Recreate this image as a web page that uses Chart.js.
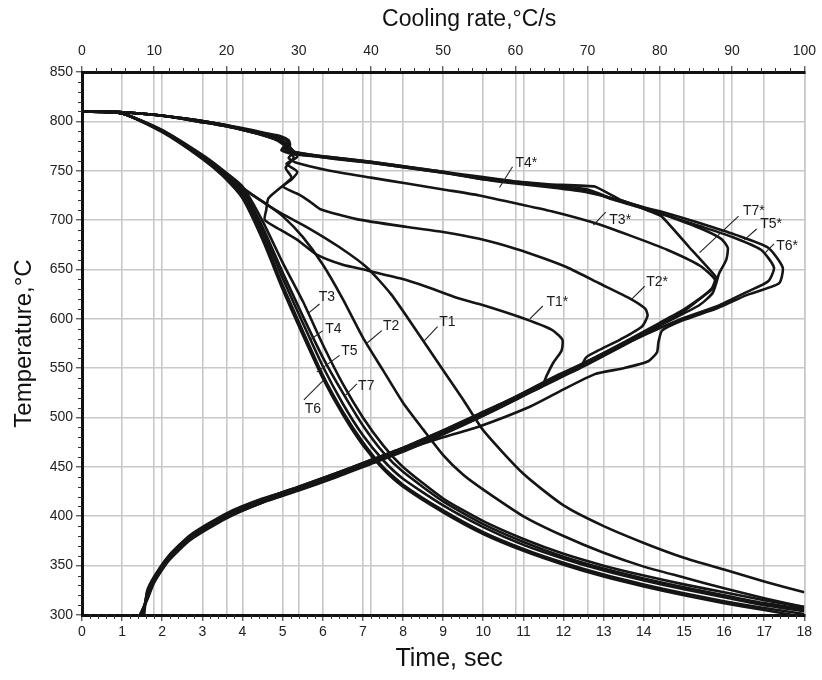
<!DOCTYPE html>
<html>
<head>
<meta charset="utf-8">
<script src="https://cdn.jsdelivr.net/npm/chart.js@4.4.1/dist/chart.umd.min.js"></script>
<style>
  html, body { margin: 0; padding: 0; background: #fff; }
  #wrap { width: 822px; height: 680px; }
</style>
</head>
<body>
<div id="wrap"><canvas id="chart" width="822" height="680"></canvas></div>
<script>
// Cooling curves: temperature (°C) against time (s), bottom axis
const stepTime = [0, 1, 2, 3, 3.5, 4, 4.5, 5, 5.5, 6, 6.5, 7, 7.5, 8, 9, 10, 11, 12, 13, 14, 15, 16, 17, 18];
const tempT3 = [810, 808, 791, 766, 751, 734, 699, 657, 618, 574, 534, 500, 472, 450, 418, 395, 377, 362, 350, 340, 331, 323, 315, 308];
const tempT4 = [810, 808, 790, 764, 748, 728, 689, 641, 596, 552, 514, 482, 457, 438, 411, 389, 371, 357, 345, 335, 326, 318, 310, 304];
const tempT5 = [810, 808, 790, 763, 747, 725, 684, 634, 588, 543, 506, 475, 450, 432, 406, 384, 367, 353, 341, 331, 322, 314, 307, 301];
const tempT6 = [810, 808, 789, 762, 745, 722, 680, 630, 584, 540, 503, 472, 448, 430, 404, 382, 365, 351, 339, 329, 320, 312, 305, 298];
const tempT7 = [810, 808, 791, 765, 750, 731, 693, 647, 603, 561, 525, 492, 465, 445, 415, 392, 374, 359, 347, 337, 328, 320, 312, 306];

const coolT1 = [[0, 810], [1, 808], [2, 790], [3, 765], [3.5, 750], [4, 733], [4.6, 716], [5, 706], [5.6, 693], [6.4, 673],
  [7.1, 652], [7.7, 625], [8.3, 590], [9, 548], [9.5, 518], [10, 487], [11, 443], [12, 411], [13, 390], [14, 373],
  [15, 358], [16, 346], [17, 334], [18, 323]];
const coolT2 = [[0, 810], [1, 808], [2, 790], [3, 765], [3.5, 750], [4, 732], [4.6, 716], [5, 704], [5.5, 683], [6, 655],
  [6.5, 620], [7, 581], [7.5, 548], [8, 515], [8.5, 488], [9, 462], [9.5, 442], [10, 427], [11, 400], [12, 380],
  [13, 363], [14, 349], [15, 338], [16, 327], [17, 317], [18, 308]];

// Cooling-rate curves: temperature (°C) against cooling rate (°C/s), top axis
const rateT1 = [[0, 810], [4, 810], [8, 808], [12, 805], [16, 800], [20, 795], [23, 790], [25.5, 785], [27.2, 780], [28.5, 772],
  [29.3, 763], [28.2, 753], [29, 743], [27.5, 733], [25.8, 722], [25.5, 710], [25.3, 700], [27.5, 690], [30, 679], [32.5, 665],
  [36, 655], [39.5, 649], [44, 641], [47.5, 633], [52, 621], [55, 615], [60.5, 602], [65, 589], [66.5, 579], [66.4, 568],
  [65.2, 555], [64.3, 542], [63.6, 531], [60, 520], [55, 503], [50, 487], [45, 471], [40, 457], [35, 443], [30, 430],
  [25, 417], [20, 402], [15, 380], [12, 359], [10, 338], [9, 322], [8.5, 300]];
const rateT2 = [[0, 810], [4, 810], [8, 808], [12, 805], [16, 800], [20, 795], [23, 790], [25.5, 785], [27.5, 780], [29, 772],
  [29.8, 764], [28.3, 757], [29.8, 749], [29, 741], [27.8, 734], [30, 726], [31.5, 719], [33, 711], [38, 701], [45, 693],
  [50, 688], [55, 681], [60, 671], [64, 661], [67.5, 651], [71.6, 636], [76, 620], [78, 610], [78.3, 603], [77.5, 592],
  [74.5, 579], [71.5, 568], [69.8, 561], [68.9, 550], [65, 538], [60, 518], [55, 500], [50, 484], [45, 468], [40, 454],
  [35, 440], [30, 427], [25, 415], [20, 399], [15, 377], [12, 356], [10, 334], [9, 316], [8.2, 300]];
const rateT3 = [[0, 810], [4, 810], [8, 808], [12, 805], [16, 800], [20, 795], [23, 790], [25.5, 786], [27.5, 781], [28.7, 775],
  [29.2, 768], [28.6, 763], [29.7, 758], [34.3, 750], [40, 743], [45, 737], [50, 731], [55, 725], [60, 717], [65, 709],
  [71, 697], [76, 684], [81, 670], [85.5, 654], [87.6, 640], [87.2, 631], [85.5, 620], [83, 606], [80, 595], [75, 575],
  [70, 557], [65, 539], [60, 521], [55, 503], [50, 486], [45, 470], [40, 456], [35, 442], [30, 429], [25, 418],
  [20, 403], [15, 381], [12, 360], [10, 339], [9, 324], [8.6, 300]];
const rateT4 = [[0, 810], [4, 810], [8, 808], [12, 805], [16, 801], [20, 796], [23, 791], [25.5, 787], [27.3, 784], [28.4, 780],
  [28.5, 775], [28, 772], [29.5, 769], [33, 765], [40, 759], [45, 754], [50, 749], [55, 742], [60, 737], [65, 733],
  [70, 728], [75, 719], [80, 707], [85.5, 692], [88.5, 681], [89.4, 672], [89.2, 660], [88.2, 646], [87.8, 636], [87.3, 626],
  [85.5, 614], [80, 593], [75, 573], [70, 554], [65, 536], [60, 518], [55, 500], [50, 483], [45, 467], [40, 453],
  [35, 439], [30, 426], [25, 414], [20, 398], [15, 376], [12, 355], [10, 333], [9, 315], [8, 300]];
const rateT5 = [[0, 810], [4, 810], [8, 808], [12, 805], [16, 801], [20, 796], [23, 791], [25.5, 787], [27, 783], [28.2, 777],
  [27.6, 771], [29, 767], [33, 764], [40, 758], [45, 753], [50, 748], [55, 742], [60, 738], [65, 734], [70, 730],
  [73.4, 721], [80.4, 706], [85.5, 694], [90, 683], [94, 670], [95.8, 652], [95, 638], [92, 627], [88, 613], [83, 600],
  [78.6, 586], [75, 574], [71.6, 562], [65, 540], [60, 521], [55, 504], [50, 487], [45, 471], [40, 457], [35, 443],
  [30, 430], [25, 417], [20, 401], [15, 379], [12, 357], [10, 336], [9, 319], [8.3, 300]];
const rateT6 = [[0, 810], [4, 810], [8, 808], [12, 805], [16, 801], [20, 796], [23, 792], [25.5, 788], [27.5, 785], [28.6, 781],
  [28.8, 776], [28.3, 771], [30, 768], [34, 764], [40, 759], [45, 754], [50, 749], [55, 744], [60, 739], [65, 735],
  [70, 731], [74, 720], [80.5, 708], [85.5, 697], [90.5, 685], [95, 672], [97, 652], [96.5, 636], [92, 624], [88, 611],
  [83, 598], [80.3, 588], [79.8, 576], [79.6, 566], [78.4, 557], [75, 550], [71, 544], [66, 526], [62, 511], [55, 491],
  [50, 480], [45, 468], [40, 454], [35, 440], [30, 427], [25, 414], [20, 399], [15, 377], [12, 356], [10, 335],
  [9, 317], [8.1, 300]];
const rateT7 = [[0, 810], [4, 810], [8, 808], [12, 805], [16, 801], [20, 796], [23, 791], [25.5, 787], [27.2, 782], [28, 776],
  [28.8, 770], [31, 766], [35, 762], [40, 758], [45, 753], [50, 748], [55, 743], [60, 739], [65, 736], [71, 734],
  [74.4, 721], [80.2, 704], [84, 673], [87.8, 642], [87.5, 632], [86, 623], [83, 608], [80, 596], [75, 576], [70, 557],
  [65, 538], [60, 520], [55, 502], [50, 485], [45, 469], [40, 455], [35, 441], [30, 428], [25, 416], [20, 401],
  [15, 379], [12, 358], [10, 337], [9, 320], [8.4, 300]];

// Curve labels: text point and leader line, in data units of the given x axis
const curveLabels = [
  { text: 'T1', axis: 'x', at: [8.9, 597], from: [8.86, 592], to: [8.51, 577] },
  { text: 'T2', axis: 'x', at: [7.5, 593], from: [7.47, 588], to: [7.09, 575] },
  { text: 'T3', axis: 'x', at: [5.9, 622], from: [5.92, 615], to: [5.65, 606] },
  { text: 'T4', axis: 'x', at: [6.06, 590], from: [6.0, 588], to: [5.7, 579] },
  { text: 'T5', axis: 'x', at: [6.46, 567], from: [6.42, 563], to: [5.85, 546] },
  { text: 'T6', axis: 'x', at: [5.55, 509], from: [5.53, 518], to: [6.02, 538] },
  { text: 'T7', axis: 'x', at: [6.88, 532], from: [6.85, 534], to: [6.55, 522] },
  { text: 'T1*', axis: 'x2', at: [64.3, 617], from: [63.8, 613], to: [62.0, 600] },
  { text: 'T2*', axis: 'x2', at: [78.1, 637], from: [77.9, 633], to: [76.1, 620] },
  { text: 'T3*', axis: 'x2', at: [73.0, 700], from: [72.5, 708], to: [70.8, 695] },
  { text: 'T4*', axis: 'x2', at: [60.0, 758], from: [59.6, 754], to: [57.8, 733] },
  { text: 'T5*', axis: 'x2', at: [93.9, 696], from: [93.4, 691], to: [91.7, 680] },
  { text: 'T6*', axis: 'x2', at: [96.1, 674], from: [95.8, 676], to: [94.6, 667] },
  { text: 'T7*', axis: 'x2', at: [91.5, 709], from: [90.9, 704], to: [85.5, 667] }
];

const FONT = '"Liberation Sans", Arial, sans-serif';
const INK = '#151515';
const gridColor = '#c8c8c8';

function pairs(list) {
  return list.map(p => ({ x: p[0], y: p[1] }));
}
function zip(xs, ys) {
  return xs.map((x, i) => ({ x: x, y: ys[i] }));
}

const datasets = [
  { label: 'T1', data: pairs(coolT1), xAxisID: 'x' },
  { label: 'T2', data: pairs(coolT2), xAxisID: 'x' },
  { label: 'T3', data: zip(stepTime, tempT3), xAxisID: 'x' },
  { label: 'T4', data: zip(stepTime, tempT4), xAxisID: 'x' },
  { label: 'T5', data: zip(stepTime, tempT5), xAxisID: 'x' },
  { label: 'T6', data: zip(stepTime, tempT6), xAxisID: 'x' },
  { label: 'T7', data: zip(stepTime, tempT7), xAxisID: 'x' },
  { label: 'T1*', data: pairs(rateT1), xAxisID: 'x2' },
  { label: 'T2*', data: pairs(rateT2), xAxisID: 'x2' },
  { label: 'T3*', data: pairs(rateT3), xAxisID: 'x2' },
  { label: 'T4*', data: pairs(rateT4), xAxisID: 'x2' },
  { label: 'T5*', data: pairs(rateT5), xAxisID: 'x2' },
  { label: 'T6*', data: pairs(rateT6), xAxisID: 'x2' },
  { label: 'T7*', data: pairs(rateT7), xAxisID: 'x2', tension: 0.08 }
].map(d => Object.assign({ yAxisID: 'y', borderColor: INK, borderWidth: 2.6, pointRadius: 0, fill: false, tension: 0.2 }, d));

// minor ticks, curve labels and axis titles
const decor = {
  id: 'decor',
  afterDatasetsDraw(chart) {
    const { ctx, scales } = chart;
    ctx.save();
    ctx.strokeStyle = '#222';
    ctx.lineWidth = 1.1;
    ctx.fillStyle = '#1a1a1a';
    ctx.font = '14px ' + FONT;
    ctx.textAlign = 'left';
    ctx.textBaseline = 'middle';
    curveLabels.forEach(l => {
      const sx = scales[l.axis], sy = scales.y;
      ctx.beginPath();
      ctx.moveTo(sx.getPixelForValue(l.from[0]), sy.getPixelForValue(l.from[1]));
      ctx.lineTo(sx.getPixelForValue(l.to[0]), sy.getPixelForValue(l.to[1]));
      ctx.stroke();
      ctx.fillText(l.text, sx.getPixelForValue(l.at[0]), sy.getPixelForValue(l.at[1]));
    });
    ctx.restore();
  },
  afterDraw(chart) {
    const { ctx, chartArea: a, scales } = chart;
    ctx.save();
    ctx.strokeStyle = '#333';
    ctx.lineWidth = 1;
    ctx.beginPath();
    for (let v = 300; v <= 850; v += 10) {
      if (v % 50 === 0) continue;
      const y = Math.round(scales.y.getPixelForValue(v)) + 0.5;
      ctx.moveTo(a.left - 4, y); ctx.lineTo(a.left, y);
    }
    for (let i = 0; i <= 90; i++) {
      if (i % 5 === 0) continue;
      const x = Math.round(scales.x.getPixelForValue(i * 0.2)) + 0.5;
      ctx.moveTo(x, a.bottom); ctx.lineTo(x, a.bottom + 4);
    }
    for (let v = 0; v <= 100; v += 2) {
      if (v % 10 === 0) continue;
      const x = Math.round(scales.x2.getPixelForValue(v)) + 0.5;
      ctx.moveTo(x, a.top - 4); ctx.lineTo(x, a.top);
    }
    ctx.stroke();

    ctx.fillStyle = '#111';
    ctx.textAlign = 'center';
    ctx.textBaseline = 'middle';
    ctx.font = '23px ' + FONT;
    ctx.fillText('Cooling rate,°C/s', (a.left + a.right) / 2 + 26, 20);
    ctx.font = '25px ' + FONT;
    ctx.fillText('Time, sec', (a.left + a.right) / 2 + 6, 659);
    ctx.translate(24, (a.top + a.bottom) / 2);
    ctx.rotate(-Math.PI / 2);
    ctx.font = '24px ' + FONT;
    ctx.fillText('Temperature,°C', 0, 0);
    ctx.restore();
  }
};

const tickFont = { family: FONT, size: 14 };
const axisBorder = { display: true, color: '#111', width: 3 };

new Chart(document.getElementById('chart').getContext('2d'), {
  type: 'line',
  data: { datasets },
  options: {
    responsive: false,
    animation: false,
    layout: { padding: { left: 0, right: 17, top: 0, bottom: 0 } },
    plugins: { legend: { display: false }, tooltip: { enabled: false } },
    scales: {
      x: {
        type: 'linear', position: 'bottom', min: 0, max: 18,
        ticks: { stepSize: 1, color: '#222', font: tickFont, padding: 3, maxRotation: 0, autoSkip: false },
        grid: { color: gridColor, lineWidth: 1.6, tickLength: 6, tickColor: '#222', tickWidth: 1 },
        border: axisBorder,
        afterFit: s => { s.height = 65; }
      },
      x2: {
        type: 'linear', position: 'top', min: 0, max: 100,
        ticks: { stepSize: 10, color: '#222', font: tickFont, padding: 6, maxRotation: 0, autoSkip: false },
        grid: { color: gridColor, lineWidth: 1.6, tickLength: 6, tickColor: '#222', tickWidth: 1 },
        border: axisBorder,
        afterFit: s => { s.height = 72; }
      },
      y: {
        type: 'linear', position: 'left', min: 300, max: 850,
        ticks: { stepSize: 50, color: '#222', font: tickFont, padding: 3 },
        grid: { color: gridColor, lineWidth: 1.6, tickLength: 6, tickColor: '#222', tickWidth: 1 },
        border: axisBorder,
        afterFit: s => { s.width = 82; }
      }
    }
  },
  plugins: [decor]
});
</script>
</body>
</html>
